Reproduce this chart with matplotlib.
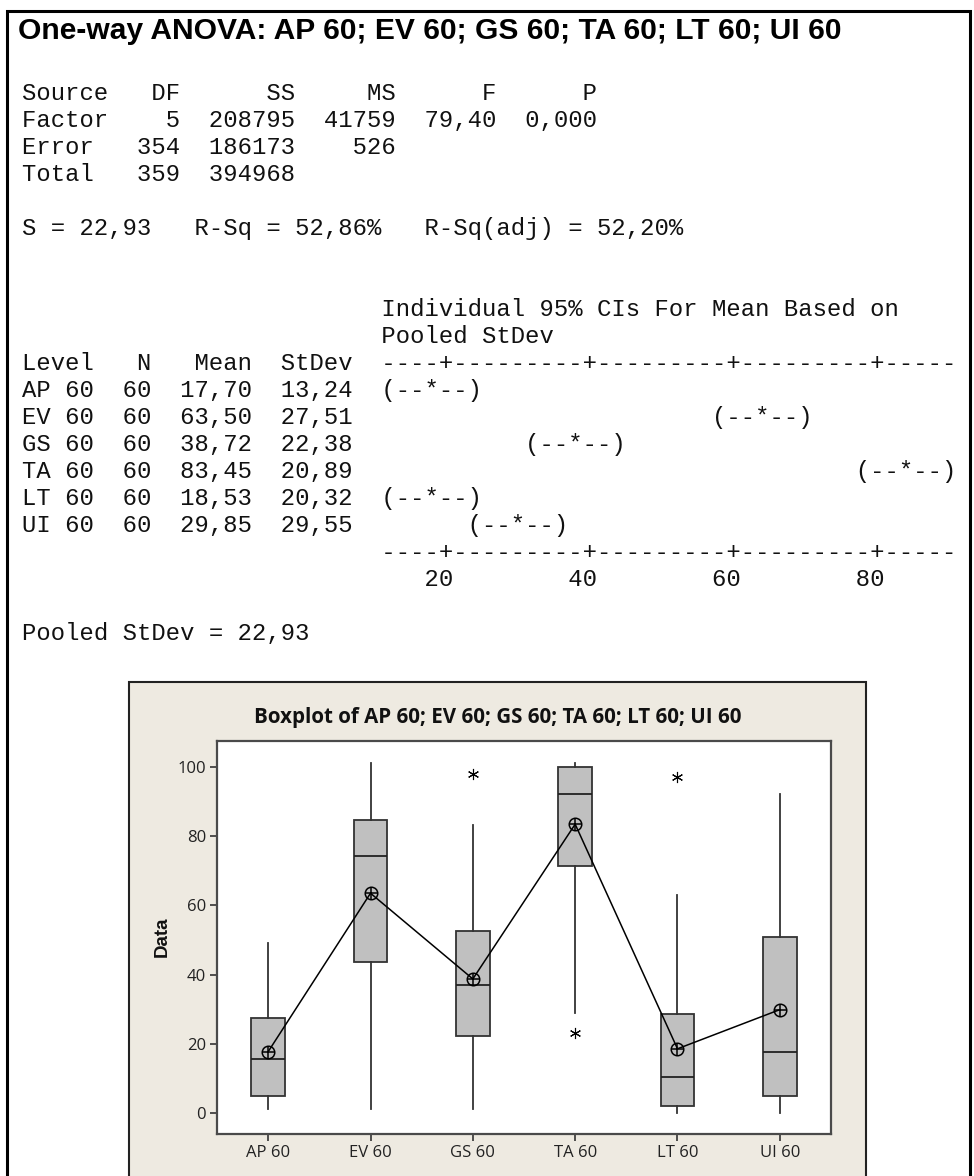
import matplotlib
matplotlib.use('Agg')
import matplotlib.pyplot as plt
from matplotlib.patches import Rectangle

W, H = 974, 1176

# one-way ANOVA summary
sources = ['Factor', 'Error', 'Total']
df = [5, 354, 359]
ss = [208795, 186173, 394968]
ms = ['41759', '526', '']
f_val = ['79,40', '', '']
p_val = ['0,000', '', '']
s_stat, r_sq, r_sq_adj = '22,93', '52,86', '52,20'
pooled_sd = '22,93'

# per-level summary
levels = ['AP 60', 'EV 60', 'GS 60', 'TA 60', 'LT 60', 'UI 60']
n_obs = [60, 60, 60, 60, 60, 60]
means = [17.70, 63.50, 38.72, 83.45, 18.53, 29.85]
stdevs = [13.24, 27.51, 22.38, 20.89, 20.32, 29.55]
ci_ticks = [20, 40, 60, 80]

# boxplot statistics
q1 = [5.0, 43.7, 22.3, 71.4, 2.0, 5.0]
medians = [15.6, 74.4, 37.0, 92.2, 10.3, 17.5]
q3 = [27.5, 84.7, 52.5, 100.0, 28.7, 50.9]
whis_lo = [1.0, 1.0, 1.0, 29.0, 0.0, 0.0]
whis_hi = [49.0, 101.0, 83.2, 101.0, 63.0, 92.2]
outliers = [[], [], [98.0], [23.0], [97.0], []]


def fx(x):
    return x / W


def fy(y):
    return 1 - y / H


def comma(v):
    return f'{v:.2f}'.replace('.', ',')


fig = plt.figure(figsize=(W / 100, H / 100), dpi=100)
fig.patch.set_facecolor('white')

# page frame (open at the bottom)
fig.add_artist(Rectangle((fx(7), fy(H + 30)), fx(970 - 7), (H + 30 - 11) / H,
                         transform=fig.transFigure, fill=False,
                         edgecolor='black', lw=2.2, zorder=-10))

fig.text(fx(18), fy(39), 'One-way ANOVA: ' + '; '.join(levels),
         family='Liberation Sans', weight='bold', fontsize=21.6,
         va='baseline', ha='left')

# session text, one line per row
lines = {}
lines[0] = f"{'Source':<6}{'DF':>5}{'SS':>8}{'MS':>7}{'F':>7}{'P':>7}"
for i, src in enumerate(sources):
    lines[1 + i] = f'{src:<6}{df[i]:>5}{ss[i]:>8}{ms[i]:>7}{f_val[i]:>7}{p_val[i]:>7}'.rstrip()
lines[5] = f'S = {s_stat}   R-Sq = {r_sq}%   R-Sq(adj) = {r_sq_adj}%'
lines[8] = ' ' * 25 + 'Individual 95% CIs For Mean Based on'
lines[9] = ' ' * 25 + 'Pooled StDev'
axis_str = '----+---------+---------+---------+-----'
lines[10] = f"{'Level':<5}{'N':>4}{'Mean':>7}{'StDev':>7}  " + axis_str
for i, lvl in enumerate(levels):
    star = round((means[i] - 12) / 2)
    ci = ' ' * (star - 3) + '(--*--)'
    lines[11 + i] = f'{lvl:<5}{n_obs[i]:>4}{comma(means[i]):>7}{comma(stdevs[i]):>7}  ' + ci
lines[17] = ' ' * 25 + axis_str
lines[18] = ' ' * 28 + (' ' * 8).join(str(t) for t in ci_ticks)
lines[20] = f'Pooled StDev = {pooled_sd}'

for k, txt in lines.items():
    fig.text(fx(22), fy(100 + 27 * k), txt, family='Liberation Mono',
             fontsize=17.2, va='baseline', ha='left', color='#111111')

# graph panel
fig.add_artist(Rectangle((fx(129), fy(H + 30)), fx(866 - 129), (H + 30 - 682) / H,
                         transform=fig.transFigure, facecolor='#EEEAE1',
                         edgecolor='#222222', lw=1.5, zorder=-5))

ax = fig.add_axes([fx(217), fy(1134), fx(831 - 217), (1134 - 741) / H])
ax.set_facecolor('white')

pos = list(range(1, len(levels) + 1))
stats = []
for i, lvl in enumerate(levels):
    stats.append(dict(label=lvl, med=medians[i], q1=q1[i], q3=q3[i],
                      whislo=whis_lo[i], whishi=whis_hi[i], fliers=outliers[i]))

ax.bxp(stats, positions=pos, widths=0.33, showcaps=False, patch_artist=True,
       boxprops=dict(facecolor='#C0C0C0', edgecolor='#333333', lw=1.3),
       whiskerprops=dict(color='#333333', lw=1.3),
       medianprops=dict(color='#222222', lw=1.3),
       flierprops=dict(marker=(6, 2, 0), markersize=8, markeredgecolor='black',
                       markeredgewidth=0.8))

# connected means
ax.plot(pos, means, color='black', lw=1.1, zorder=4)
ax.plot(pos, means, 'o', ms=9, mfc='none', mec='black', mew=1.1, zorder=5)
ax.plot(pos, means, '+', ms=9, mec='black', mew=1.1, zorder=5)

ax.set_xlim(0.5, 6.5)
ax.set_ylim(-6.1, 107.5)
ax.set_yticks([0, 20, 40, 60, 80, 100])
ax.set_xticks(pos)
ax.set_xticklabels(levels)
for sp in ax.spines.values():
    sp.set_color('#4a4a4a')
    sp.set_linewidth(1.6)
ax.tick_params(direction='out', length=5, width=1.2, color='#333333',
               labelsize=12, pad=3, labelcolor='#222222')
ax.tick_params(top=False, right=False)
for lab in ax.get_xticklabels() + ax.get_yticklabels():
    lab.set_family('Open Sans')

fig.text(fx(497.5), fy(718), 'Boxplot of ' + '; '.join(levels),
         family='Open Sans', weight='bold', fontsize=14.8,
         ha='center', va='center', color='#111111')
fig.text(fx(162), fy(937), 'Data', family=['Liberation Sans', 'DejaVu Sans'],
         weight='bold', fontsize=13.5, rotation=90, ha='center', va='center',
         color='#111111')

fig.savefig('out.png', dpi=100)
